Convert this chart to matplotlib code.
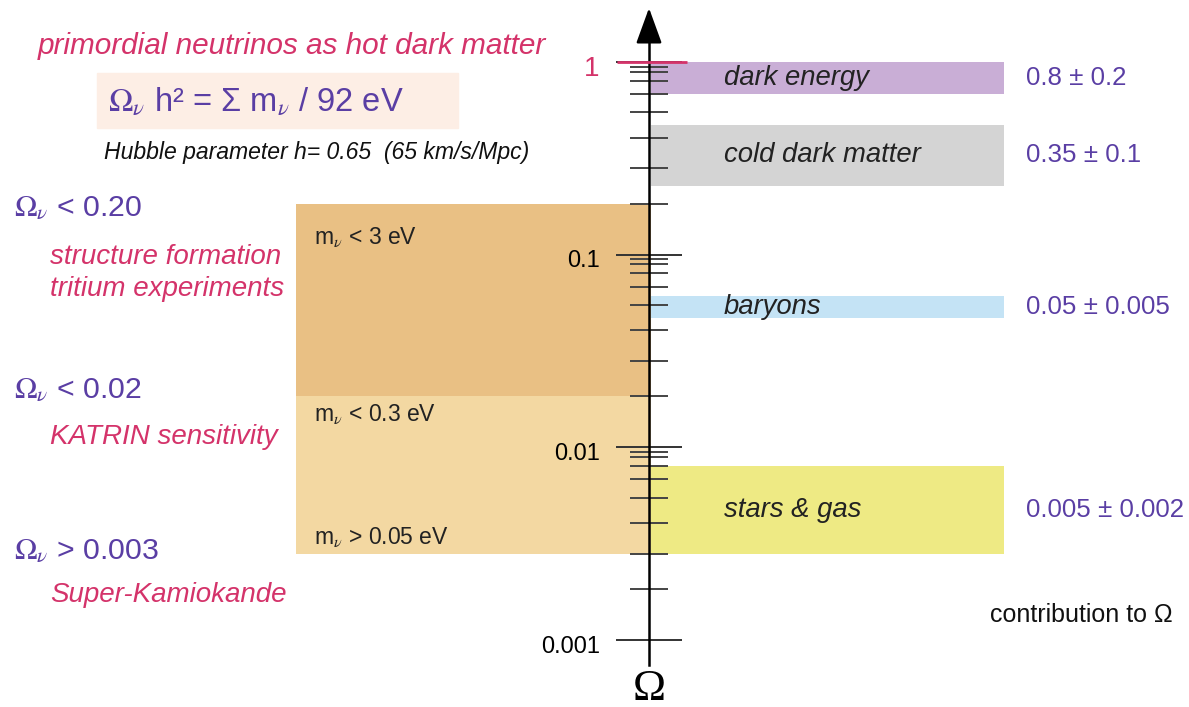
import numpy as np
import matplotlib.pyplot as plt
from matplotlib.patches import Rectangle
from matplotlib.ticker import FixedLocator
from matplotlib.transforms import ScaledTranslation

plt.rcParams['font.family'] = ['Liberation Sans', 'DejaVu Sans']
plt.rcParams['mathtext.fontset'] = 'stix'

# contributions to Omega: central value and uncertainty
components = ['dark energy', 'cold dark matter', 'baryons', 'stars & gas']
omega_val = [0.8, 0.35, 0.05, 0.005]
omega_err = [0.2, 0.1, 0.005, 0.002]
comp_colors = ['#c9aed6', '#d4d4d4', '#c4e3f5', '#eeea84']

# neutrino density bounds (upper edges of the bands, lowest edge)
nu_upper = [0.20, 0.02]
nu_lower = 0.003
nu_colors = ['#e9c084', '#f3d8a2']
nu_mass_labels = [r'm$_\nu$ < 3 eV', r'm$_\nu$ < 0.3 eV', r'm$_\nu$ > 0.05 eV']
nu_bound_labels = [r'$\Omega_\nu$ < 0.20', r'$\Omega_\nu$ < 0.02', r'$\Omega_\nu$ > 0.003']
nu_experiments = ['structure formation\ntritium experiments', 'KATRIN sensitivity', 'Super-Kamiokande']

decades = [0.001, 0.01, 0.1, 1]
decade_labels = ['0.001', '0.01', '0.1', '1']

# hand-ruled log axis: where each mantissa 1..10 sits inside its decade
ruler_mantissa = [1, 2, 3, 4, 5, 6, 7, 8, 9, 10]
ruler_position = [0, 0.265, 0.448, 0.607, 0.739, 0.834, 0.903, 0.95, 0.976, 1]


def ruler_forward(v):
    v = np.clip(np.asarray(v, dtype=float), 1e-12, None)
    d = np.floor(np.log10(v))
    return d + np.interp(v / 10 ** d, ruler_mantissa, ruler_position)


def ruler_inverse(u):
    u = np.asarray(u, dtype=float)
    d = np.floor(u)
    return 10 ** d * np.interp(u - d, ruler_position, ruler_mantissa)


RED = '#d4336a'
PURPLE = '#5a3ea4'
W, H = 1189, 707
y_one, px_decade = 62, 192.67

fig = plt.figure(figsize=(W / 100, H / 100), dpi=100)
ax = fig.add_axes([0, 0, 1, 1])
ax.patch.set_alpha(0)
ax.set_xlim(0, W)
ax.set_yscale('function', functions=(ruler_forward, ruler_inverse))
ax.set_ylim(ruler_inverse(-(H - y_one) / px_decade), ruler_inverse(y_one / px_decade))

axis_x = 649

# component bands right of the axis
for name, v, e, c in zip(components, omega_val, omega_err, comp_colors):
    ax.bar(827.5, 2 * e, bottom=v - e, width=353, color=c, zorder=1)
    yc = ruler_inverse((ruler_forward(v - e) + ruler_forward(v + e)) / 2)
    ax.text(724, yc, name, fontsize=19.8, style='italic',
            va='center', ha='left', color='#222222')
    ax.text(1026, yc, f'{v:g} ± {e:g}', fontsize=18.6,
            va='center', ha='left', color=PURPLE)

# neutrino bands left of the axis
edges = nu_upper + [nu_lower]
for i, c in enumerate(nu_colors):
    ax.bar(473.5, edges[i] - edges[i + 1], bottom=edges[i + 1], width=355,
           color=c, zorder=1)

# the Omega axis
for s in ['right', 'top', 'bottom']:
    ax.spines[s].set_visible(False)
ax.spines['left'].set_position(('data', axis_x))
ax.spines['left'].set_linewidth(1.8)
ax.spines['left'].set_bounds(ruler_inverse(-3.13), ruler_inverse(0.14))
ax.set_xticks([])
ax.set_yticks(decades, decade_labels)
ax.yaxis.set_minor_locator(FixedLocator([m * d for d in decades[:-1] for m in range(2, 10)]))
ax.yaxis.set_minor_formatter(plt.NullFormatter())
ax.tick_params(axis='y', which='major', direction='inout', length=47, width=1.4,
               color='#333333', pad=12, labelsize=17)
ax.tick_params(axis='y', which='minor', direction='inout', length=28, width=1.4,
               color='#444444')
shift = ScaledTranslation(0, -4 / 100, fig.dpi_scale_trans)
for lbl in ax.get_yticklabels():
    lbl.set_transform(lbl.get_transform() + shift)
top = ax.get_yticklabels()[-1]
top.set_color(RED)
top.set_fontsize(20)

ax.hlines(1, 617, 687, color=RED, lw=2, zorder=5)
ax.annotate('', xy=(axis_x, ruler_inverse(0.28)), xytext=(axis_x, ruler_inverse(0.12)),
            arrowprops=dict(arrowstyle='-|>,head_length=1.1,head_width=0.4',
                            mutation_scale=20, color='black', lw=1.8,
                            shrinkA=0, shrinkB=0))


def put(x, y, s, **kw):
    fig.text(x / W, 1 - y / H, s, **kw)


fig.patches.append(Rectangle((97 / W, 1 - 128 / H), 361 / W, 55 / H,
                             transform=fig.transFigure, color='#fdeee5', zorder=0))
put(38, 46, 'primordial neutrinos as hot dark matter', fontsize=21.4, style='italic',
    color=RED, va='center')
put(108, 102, r'$\Omega_\nu$ h² = Σ m$_\nu$ / 92 eV', fontsize=23.5, color=PURPLE,
    va='center')
put(104, 153, 'Hubble parameter h= 0.65  (65 km/s/Mpc)', fontsize=16.6, style='italic',
    color='#111111', va='center')

for lbl, y in zip(nu_bound_labels, [208, 390, 551]):
    put(14, y, lbl, fontsize=21.8, color=PURPLE, va='center')
for lbl, y in zip(nu_experiments, [273, 437, 595]):
    put(50, y, lbl, fontsize=20, style='italic', color=RED, va='center',
        linespacing=1.28)
for lbl, y in zip(nu_mass_labels, [237, 414, 537]):
    put(314, y, lbl, fontsize=16.5, color='#222222', va='center')

put(990, 615, 'contribution to Ω', fontsize=18, color='#111111', va='center')
put(axis_x, 700, 'Ω', fontsize=32, family='Liberation Serif', ha='center', va='baseline')

fig.savefig('out.png', dpi=100)
